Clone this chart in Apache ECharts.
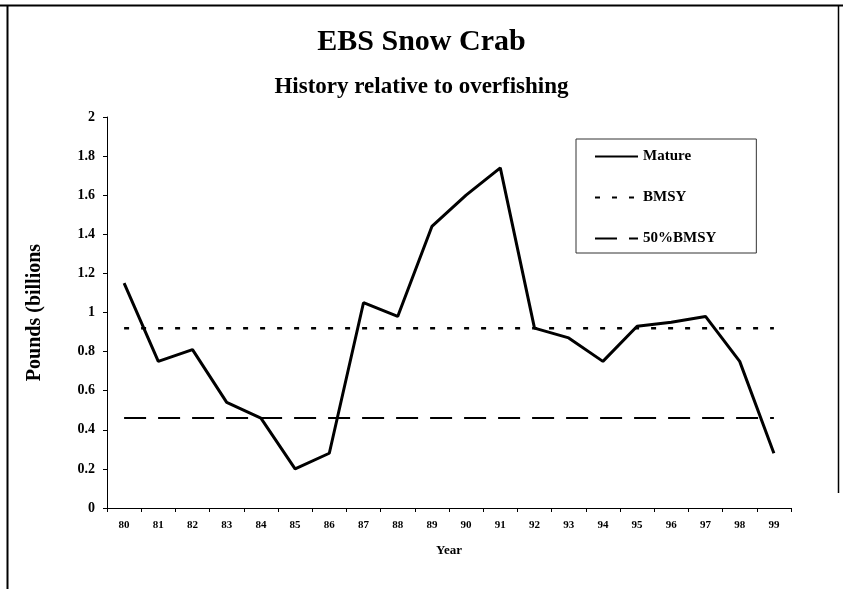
<!DOCTYPE html>
<html>
<head>
<meta charset="utf-8">
<script src="https://cdn.jsdelivr.net/npm/echarts@6/dist/echarts.min.js"></script>
<style>
html,body{margin:0;padding:0;background:#fff;}
#chart{width:843px;height:589px;}
</style>
</head>
<body>
<div id="chart"></div>
<script>
var years = ['80','81','82','83','84','85','86','87','88','89','90','91','92','93','94','95','96','97','98','99'];
var mature = [1.15,0.75,0.81,0.54,0.46,0.20,0.28,1.05,0.98,1.44,1.60,1.74,0.92,0.87,0.75,0.93,0.95,0.98,0.75,0.28];
var bmsyValue = 0.92;
var halfBmsyValue = 0.46;
var bmsy = years.map(function(){ return bmsyValue; });
var halfBmsy = years.map(function(){ return halfBmsyValue; });
var yTicks = [0,0.2,0.4,0.6,0.8,1,1.2,1.4,1.6,1.8,2];

var FONT = "'Liberation Serif','Times New Roman',serif";
var chart = echarts.init(document.getElementById('chart'), null, {renderer:'canvas'});
chart.setOption({
  backgroundColor:'#fff',
  animation:false,
  title:[
    {text:'EBS Snow Crab', left:'center', top:22, textStyle:{fontFamily:FONT, fontWeight:'bold', fontSize:30, color:'#000'}},
    {text:'History relative to overfishing', left:'center', top:71, textStyle:{fontFamily:FONT, fontWeight:'bold', fontSize:23, color:'#000'}}
  ],
  graphic:[
    {type:'line', shape:{x1:0,y1:5.5,x2:843,y2:5.5}, style:{stroke:'#000', lineWidth:2}},
    {type:'line', shape:{x1:7.5,y1:5,x2:7.5,y2:589}, style:{stroke:'#000', lineWidth:2}},
    {type:'line', shape:{x1:838.5,y1:5,x2:838.5,y2:493}, style:{stroke:'#000', lineWidth:1.5}}
  ],
  legend:{
    orient:'vertical',
    left:576, top:139,
    padding:[10,40,7,18],
    itemWidth:43, itemHeight:14, itemGap:26,
    borderColor:'#333', borderWidth:1,
    itemStyle:{color:'rgba(0,0,0,0)', borderWidth:0, opacity:0},
    textStyle:{fontFamily:FONT, fontWeight:'bold', fontSize:15, color:'#000'},
    data:['Mature','BMSY','50%BMSY']
  },
  grid:{left:107, right:52, top:117, bottom:81, containLabel:false},
  xAxis:{
    type:'category', data:years, boundaryGap:true,
    name:'Year', nameLocation:'middle', nameGap:36,
    nameTextStyle:{fontFamily:FONT, fontWeight:'bold', fontSize:13, color:'#000'},
    axisLine:{lineStyle:{color:'#000', width:1}},
    axisTick:{show:true, length:4, lineStyle:{color:'#000'}},
    axisLabel:{fontFamily:FONT, fontWeight:'bold', fontSize:11, color:'#000', margin:12},
    splitLine:{show:false}
  },
  yAxis:{
    type:'value', min:0, max:2, interval:0.2,
    name:'Pounds (billions', nameLocation:'middle', nameGap:62, nameRotate:90,
    nameTextStyle:{fontFamily:FONT, fontWeight:'bold', fontSize:20, color:'#000'},
    axisLine:{show:true, lineStyle:{color:'#000', width:1}},
    axisTick:{show:true, length:4, lineStyle:{color:'#000'}},
    axisLabel:{fontFamily:FONT, fontWeight:'bold', fontSize:14, color:'#000', margin:12,
      formatter:function(v){ var i = yTicks.indexOf(Math.round(v*10)/10); return i>=0 ? String(yTicks[i]) : ''; }},
    splitLine:{show:false}
  },
  series:[
    {name:'Mature', type:'line', data:mature, symbol:'none', lineStyle:{color:'#000', width:3}, itemStyle:{color:'#000'}, z:3},
    {name:'BMSY', type:'line', data:bmsy, symbol:'none', lineStyle:{color:'#000', width:2.5, type:[5,12]}, itemStyle:{color:'#000'}, z:2},
    {name:'50%BMSY', type:'line', data:halfBmsy, symbol:'none', lineStyle:{color:'#000', width:2, type:[22,12]}, itemStyle:{color:'#000'}, z:2}
  ]
});
</script>
</body>
</html>
